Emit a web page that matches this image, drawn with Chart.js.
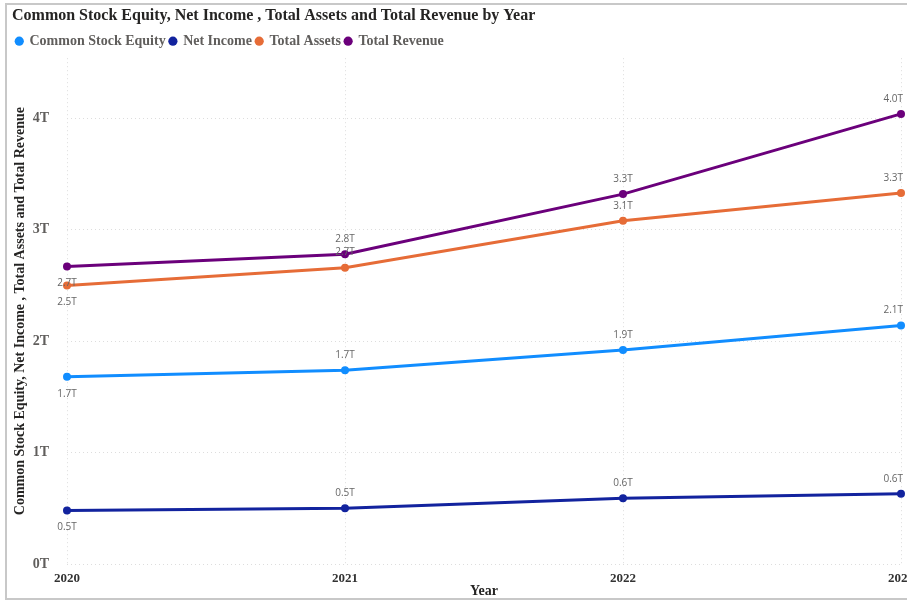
<!DOCTYPE html>
<html>
<head>
<meta charset="utf-8">
<script src="https://cdn.jsdelivr.net/npm/chart.js@4.4.1/dist/chart.umd.min.js"></script>
<style>
  html, body { margin: 0; padding: 0; background: #fff; overflow: hidden; }
  #frame { position: absolute; left: 5px; top: 3px; width: 960px; height: 593px; border: 2px solid #c8c8c8; overflow: hidden; }
  #wrap { position: absolute; left: 0; top: 0; width: 930px; height: 593px; }
</style>
</head>
<body>
<div id="frame"><div id="wrap"><canvas id="chart"></canvas></div></div>
<script>
// valores en billones (T)
const years = ['2020', '2021', '2022', '2023'];
const commonStockEquity = [1.68, 1.74, 1.92, 2.14];
const netIncome = [0.48, 0.50, 0.59, 0.63];
const totalAssets = [2.50, 2.66, 3.08, 3.33];
const totalRevenue = [2.67, 2.78, 3.32, 4.04];
const yTicks = [0, 1, 2, 3, 4];

const serif = "'Liberation Serif', 'Times New Roman', serif";

function serie(label, data, color){
    return {
        label: label, data: data,
        borderColor: color, backgroundColor: color,
        borderWidth: 3, pointRadius: 4, pointHoverRadius: 4,
        pointBackgroundColor: color, pointBorderWidth: 0,
        tension: 0
    };
}

// etiquetas de valor sobre cada punto (el primero va debajo)
const valueLabels = {
    id: 'valueLabels',
    afterDatasetsDraw(chart){
        const ctx = chart.ctx;
        ctx.save();
        ctx.font = "10px 'Open Sans', 'DejaVu Sans', sans-serif";
        ctx.fillStyle = '#666666';
        ctx.textAlign = 'center';
        ctx.textBaseline = 'middle';
        const maxRight = 896;
        chart.data.datasets.forEach((ds, i) => {
            chart.getDatasetMeta(i).data.forEach((pt, j) => {
                const txt = ds.data[j].toFixed(1) + 'T';
                const half = ctx.measureText(txt).width / 2;
                const x = Math.min(pt.x, maxRight - half);
                const dy = j === 0 ? 17 : -15;
                ctx.fillText(txt, x, pt.y + dy);
            });
        });
        ctx.restore();
    }
};

new Chart(document.getElementById('chart'), {
    type: 'line',
    data: {
        labels: years,
        datasets: [
            serie('Common Stock Equity', commonStockEquity, '#118DFF'),
            serie('Net Income', netIncome, '#12239E'),
            serie('Total Assets', totalAssets, '#E66C37'),
            serie('Total Revenue', totalRevenue, '#6B007B')
        ]
    },
    options: {
        responsive: true,
        maintainAspectRatio: false,
        animation: false,
        layout: { padding: { left: 5, right: 36, top: 0, bottom: 0 } },
        plugins: {
            title: {
                display: true, align: 'start',
                text: 'Common Stock Equity, Net Income , Total Assets and Total Revenue by Year',
                color: '#252423',
                font: { family: serif, size: 16, weight: 'bold' },
                padding: { top: 1, bottom: 5 }
            },
            legend: {
                display: true, align: 'start',
                labels: {
                    usePointStyle: true, pointStyle: 'circle',
                    boxWidth: 6.5, boxHeight: 6.5, padding: 4,
                    color: '#605E5C',
                    font: { family: serif, size: 14, weight: 'bold' }
                }
            },
            tooltip: { enabled: false }
        },
        scales: {
            x: {
                offset: false,
                grid: { color: '#dddddd', drawTicks: false },
                border: { display: false, dash: [1, 3] },
                ticks: { color: '#333333', padding: 8, font: { family: serif, size: 13, weight: 'bold', lineHeight: 1 } },
                title: { display: true, text: 'Year', color: '#252423', padding: { top: -9, bottom: 0 },
                         font: { family: serif, size: 14, weight: 'bold', lineHeight: 1 } }
            },
            y: {
                min: 0, max: 4.54,
                afterBuildTicks(scale){ scale.ticks = yTicks.map(v => ({ value: v })); },
                afterFit(scale){ scale.width = 55; },
                grid: { color: '#dddddd', drawTicks: false },
                border: { display: false, dash: [1, 3] },
                ticks: {
                    color: '#605E5C', padding: 18,
                    font: { family: serif, size: 14, weight: 'bold' },
                    callback: v => v + 'T'
                },
                title: { display: true, text: 'Common Stock Equity, Net Income , Total Assets and Total Revenue',
                         color: '#252423', padding: { top: 0, bottom: 0 },
                         font: { family: serif, size: 14, weight: 'bold' } }
            }
        }
    },
    plugins: [valueLabels]
});
</script>
</body>
</html>
